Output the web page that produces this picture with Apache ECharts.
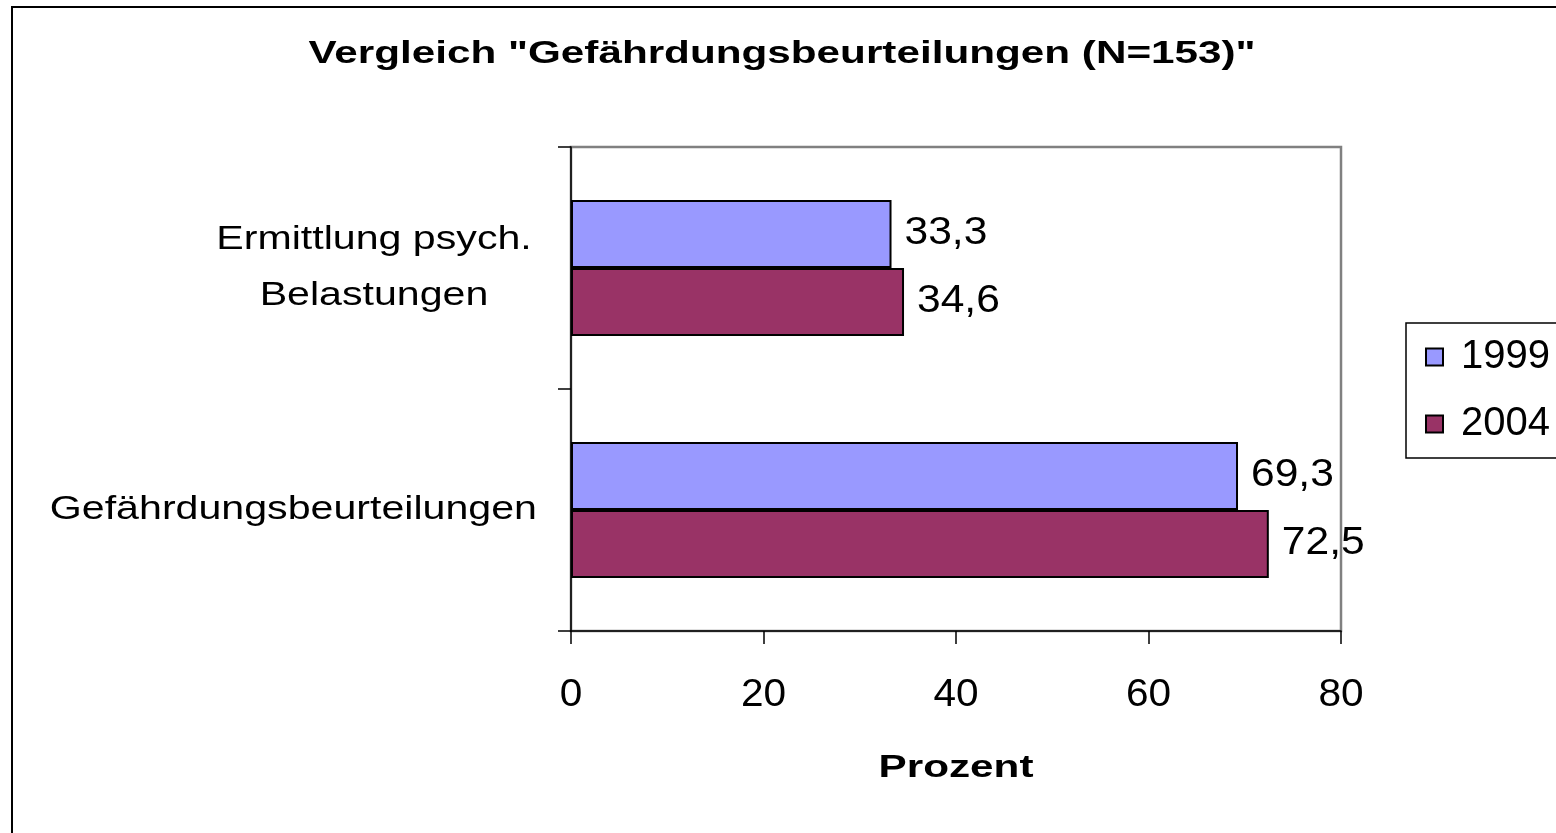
<!DOCTYPE html>
<html>
<head>
<meta charset="utf-8">
<script src="https://cdn.jsdelivr.net/npm/echarts@6/dist/echarts.min.js"></script>
<style>
html,body{margin:0;padding:0;background:#fff;}
#c{width:1556px;height:833px;}
</style>
</head>
<body>
<div id="c"></div>
<script>
const titleText = 'Vergleich "Gefährdungsbeurteilungen (N=153)"';
const categories = ['Gefährdungsbeurteilungen', 'Ermittlung psych.\nBelastungen'];
const seriesNames = ['1999', '2004'];
const values1999 = [69.3, 33.3];
const values2004 = [72.5, 34.6];
const xTicks = [0, 20, 40, 60, 80];
const axisName = 'Prozent';

// The reference glyphs are drawn horizontally widened; reproduce that
// by stretching text horizontally around its anchor point when painted.
const TEXT_STRETCH = {b32: 1.32, n34: 1.21, n38: 1.12, n39: 1.04};
(function () {
  const proto = CanvasRenderingContext2D.prototype;
  const orig = proto.fillText;
  proto.fillText = function (t, x, y, mw) {
    const f = this.font || '';
    const m = /(\d+(?:\.\d+)?)px/.exec(f);
    const key = (/bold|700/.test(f) ? 'b' : 'n') + (m ? Math.round(+m[1]) : '');
    const s = TEXT_STRETCH[key];
    if (!s) return mw === undefined ? orig.call(this, t, x, y) : orig.call(this, t, x, y, mw);
    this.save();
    this.translate(x, y);
    this.scale(s, 1);
    if (mw === undefined) orig.call(this, t, 0, 0); else orig.call(this, t, 0, 0, mw);
    this.restore();
  };
})();

const FONT = '"Liberation Sans", Arial, sans-serif';
const chart = echarts.init(document.getElementById('c'), null, {renderer: 'canvas'});

const labelFmt = p => String(p.value).replace('.', ',');

chart.setOption({
  backgroundColor: '#fff',
  animation: false,
  graphic: [
    {type: 'rect', shape: {x: 12, y: 7, width: 3000, height: 3000},
     style: {fill: 'none', stroke: '#000', lineWidth: 2}, silent: true},
    {type: 'text', x: 782, y: 54,
     style: {text: titleText, textAlign: 'center', textVerticalAlign: 'middle',
             fill: '#000', font: 'bold 32px ' + FONT}}
  ],
  legend: {
    orient: 'vertical', left: 1406, top: 323,
    padding: [14, 80, 14, 19],
    itemWidth: 17, itemHeight: 17, itemGap: 27,
    borderColor: '#000', borderWidth: 1.5,
    icon: 'rect',
    textStyle: {fontSize: 40, lineHeight: 40, color: '#000', fontFamily: FONT, padding: [0, 0, 0, 13]},
    data: seriesNames
  },
  grid: {left: 571, top: 147, width: 770, height: 484, show: true,
         borderColor: '#808080', borderWidth: 2.5, backgroundColor: '#fff', containLabel: false},
  xAxis: {
    type: 'value', min: 0, max: 80, interval: 20,
    name: axisName, nameLocation: 'middle', nameGap: 121,
    nameTextStyle: {fontSize: 32, fontWeight: 'bold', color: '#000', fontFamily: FONT},
    axisLine: {show: true, lineStyle: {color: '#000', width: 1.5}},
    axisTick: {show: true, length: 13, lineStyle: {color: '#000', width: 1.5}},
    axisLabel: {fontSize: 39, color: '#000', fontFamily: FONT, margin: 45,
                formatter: v => xTicks.includes(v) ? String(v) : ''},
    splitLine: {show: false}
  },
  yAxis: {
    type: 'category', data: categories,
    axisLine: {show: true, lineStyle: {color: '#000', width: 1.5}},
    axisTick: {show: true, length: 13, lineStyle: {color: '#000', width: 1.5}},
    axisLabel: {
      margin: 34, color: '#000', fontFamily: FONT, fontSize: 34,
      formatter: v => v.indexOf('\n') >= 0
        ? v.split('\n').map(l => '{a|' + l + '}').join('\n')
        : '{b|' + v + '}',
      rich: {
        a: {fontSize: 34, lineHeight: 56, width: 326, align: 'center', color: '#000', fontFamily: FONT},
        b: {fontSize: 34, lineHeight: 56, align: 'right', color: '#000', fontFamily: FONT}
      }
    }
  },
  series: [
    {name: seriesNames[0], type: 'bar', data: values1999, barWidth: 68, barGap: '0%',
     itemStyle: {color: '#9999FF', borderColor: '#000', borderWidth: 2},
     label: {show: true, position: 'right', distance: 13, fontSize: 38, color: '#000',
             fontFamily: FONT, formatter: labelFmt}},
    {name: seriesNames[1], type: 'bar', data: values2004, barWidth: 68, barGap: '0%',
     itemStyle: {color: '#993366', borderColor: '#000', borderWidth: 2},
     label: {show: true, position: 'right', distance: 13, fontSize: 38, color: '#000',
             fontFamily: FONT, formatter: labelFmt}}
  ]
});
</script>
</body>
</html>
